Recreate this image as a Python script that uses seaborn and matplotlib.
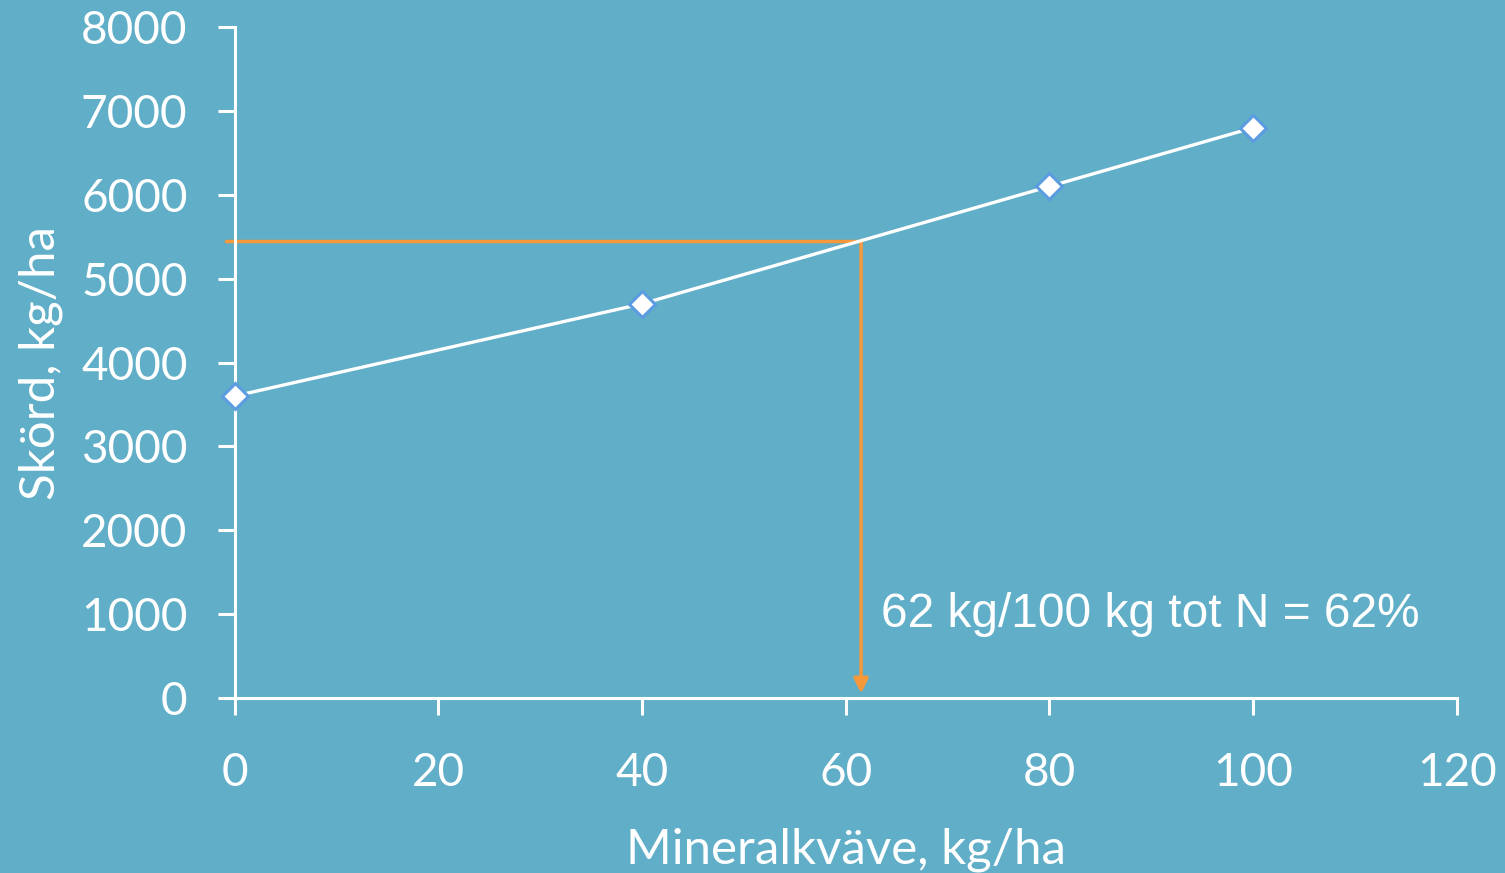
import matplotlib
matplotlib.use("Agg")
import matplotlib.pyplot as plt
import seaborn as sns
import pandas as pd

# data
kvave = [0, 40, 80, 100]
skord = [3600, 4700, 6100, 6800]
guide_x = 61.5
guide_y = 5450
x_ticks = [0, 20, 40, 60, 80, 100, 120]
y_ticks = [0, 1000, 2000, 3000, 4000, 5000, 6000, 7000, 8000]
label_txt = "62 kg/100 kg tot N = 62%"

bg = "#60AEC7"
orange = "#F7993A"

sns.set_style("white")
plt.rcParams["font.family"] = ["Lato", "DejaVu Sans"]

df = pd.DataFrame({"kvave": kvave, "skord": skord})

fig = plt.figure(figsize=(15.05, 8.73), dpi=100, facecolor=bg)
ax = fig.add_axes([0.156, 0.2005, 0.812, 0.7685])
ax.set_facecolor(bg)

sns.lineplot(data=df, x="kvave", y="skord", ax=ax, color="white", lw=2.4,
             marker="D", markersize=13, markerfacecolor="white",
             markeredgecolor="#5B9BE0", markeredgewidth=2.2, zorder=3,
             clip_on=False)

# orange guide lines
ax.plot([-0.9, guide_x], [guide_y, guide_y], color=orange, lw=2.5,
        clip_on=False, zorder=2)
ax.annotate("", xy=(guide_x, 55), xytext=(guide_x, guide_y),
            arrowprops=dict(arrowstyle="-|>", color=orange, lw=2.5,
                            mutation_scale=22, shrinkA=0, shrinkB=0),
            zorder=2)
ax.text(63.5, 1000, label_txt, color="white", fontsize=34.5,
        family=["Liberation Sans", "DejaVu Sans"], va="center", ha="left")

ax.set_xlim(0, 120)
ax.set_ylim(0, 8000)
ax.set_xticks(x_ticks)
ax.set_yticks(y_ticks)

for s in ["top", "right"]:
    ax.spines[s].set_visible(False)
for s in ["left", "bottom"]:
    ax.spines[s].set_color("white")
    ax.spines[s].set_linewidth(2.2)

ax.tick_params(axis="both", colors="white", labelcolor="white",
               labelsize=33, length=12, width=2.2, direction="out",
               bottom=True, left=True)
ax.tick_params(axis="x", pad=27)
ax.tick_params(axis="y", pad=22)

ax.set_xlabel("Mineralkväve, kg/ha", color="white", fontsize=35.5, labelpad=24)
ax.set_ylabel("Skörd, kg/ha", color="white", fontsize=35.5, labelpad=13)

fig.savefig("out.png", dpi=100, facecolor=bg)
